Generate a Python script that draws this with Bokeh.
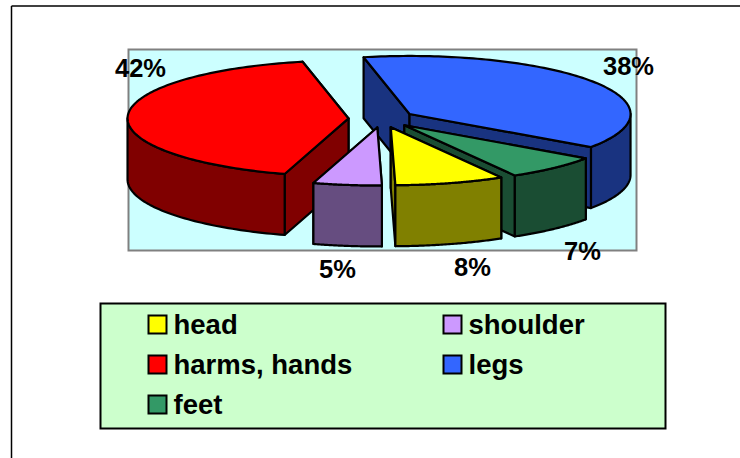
import numpy as np
from bokeh.plotting import figure
from bokeh.core.properties import value
from bokeh.embed import file_html
from bokeh.resources import INLINE

categories = ["head", "shoulder", "harms, hands", "legs", "feet"]
shares = [8, 5, 42, 38, 7]
top_colors = ["#FFFF00", "#CC99FF", "#FF0000", "#3366FF", "#339966"]
side_colors = ["#808000", "#664D80", "#800000", "#193380", "#1A4D33"]
labels = ["8%", "5%", "42%", "38%", "7%"]

# pie geometry (layout, in page pixels)
CX, CY, RX, RY, DEPTH, EXPLODE = 381.3, 118.3, 221, 58, 61, 33.3
FIRST_ANGLE = 150.0  # clockwise from 12 o'clock
LABEL_POS = {"head": (472, 266), "shoulder": (337, 268), "harms, hands": (140, 67),
             "legs": (628, 65), "feet": (582, 250)}
LEGEND_POS = {"head": (148, 324), "shoulder": (443, 324), "harms, hands": (148, 364),
              "legs": (443, 364), "feet": (148, 404)}
DRAW_ORDER = ["legs", "harms, hands", "feet", "shoulder", "head"]

p = figure(width=740, height=458, x_range=(0, 740), y_range=(458, 0),
           toolbar_location=None, output_backend="svg", min_border=0, margin=(0, 0, 0, 0))
p.axis.visible = False
p.grid.visible = False
p.outline_line_color = None
p.background_fill_color = "#FFFFFF"

# outer frame
p.line([11, 11], [5.5, 458], line_color="#000000", line_width=1.5)
p.line([11, 740], [5.5, 5.5], line_color="#000000", line_width=1.5)

# plot area
p.quad(left=[128], right=[636], top=[49], bottom=[250], fill_color="#CCFFFF",
       line_color="#808080", line_width=2, line_join="miter")


def rim(cx, cy, a):
    r = np.radians(a)
    return cx + RX * np.sin(r), cy - RY * np.cos(r)


def draw(xs, ys, fill):
    p.patch(list(xs), list(ys), fill_color=fill, line_color="#000000", line_width=2.2,
            line_join="round")


# slice spans
angles = {}
a = FIRST_ANGLE
for name, share in zip(categories, shares):
    sweep = share / sum(shares) * 360
    angles[name] = (a, a + sweep)
    a += sweep
angles = {k: (v[0] % 360, v[0] % 360 + (v[1] - v[0])) for k, v in angles.items()}

for name in DRAW_ORDER:
    i = categories.index(name)
    a0, a1 = angles[name]
    mid = np.radians((a0 + a1) / 2)
    cx = CX + EXPLODE * np.sin(mid)
    cy = CY - EXPLODE * RY / RX * np.cos(mid)
    side, top = side_colors[i], top_colors[i]
    # radial walls, back one first
    for ang in sorted((a0, a1), key=lambda v: rim(cx, cy, v)[1]):
        x, y = rim(cx, cy, ang)
        draw([cx, x, x, cx], [cy, y, y + DEPTH, cy + DEPTH], side)
    # outer wall: front half only
    for k in (0, 1):
        lo, hi = max(a0, 90 + 360 * k), min(a1, 270 + 360 * k)
        if hi > lo:
            t = np.linspace(lo, hi, 60)
            x, y = rim(cx, cy, t)
            draw(np.r_[x, x[::-1]], np.r_[y, y[::-1] + DEPTH], side)
    # top
    t = np.linspace(a0, a1, 120)
    x, y = rim(cx, cy, t)
    draw(np.r_[cx, x], np.r_[cy, y], top)

# data labels
FONT = value("Liberation Sans")
for name, lab in zip(categories, labels):
    lx, ly = LABEL_POS[name]
    p.text([lx], [ly], text=[lab], text_font=FONT, text_font_style="bold", text_font_size="25.5px",
           text_align="center", text_baseline="middle", text_color="#000000")

# legend
p.quad(left=[100], right=[665], top=[303], bottom=[428], fill_color="#CCFFCC",
       line_color="#000000", line_width=2, line_join="miter")
for i, name in enumerate(categories):
    lx, ly = LEGEND_POS[name]
    p.quad(left=[lx], right=[lx + 18], top=[ly - 9], bottom=[ly + 9], fill_color=top_colors[i],
           line_color="#000000", line_width=2, line_join="miter")
    p.text([lx + 25], [ly], text=[name], text_font=FONT, text_font_style="bold",
           text_font_size="27.5px", text_align="left", text_baseline="middle", text_color="#000000")

open("out.html", "w").write(file_html(p, INLINE))
